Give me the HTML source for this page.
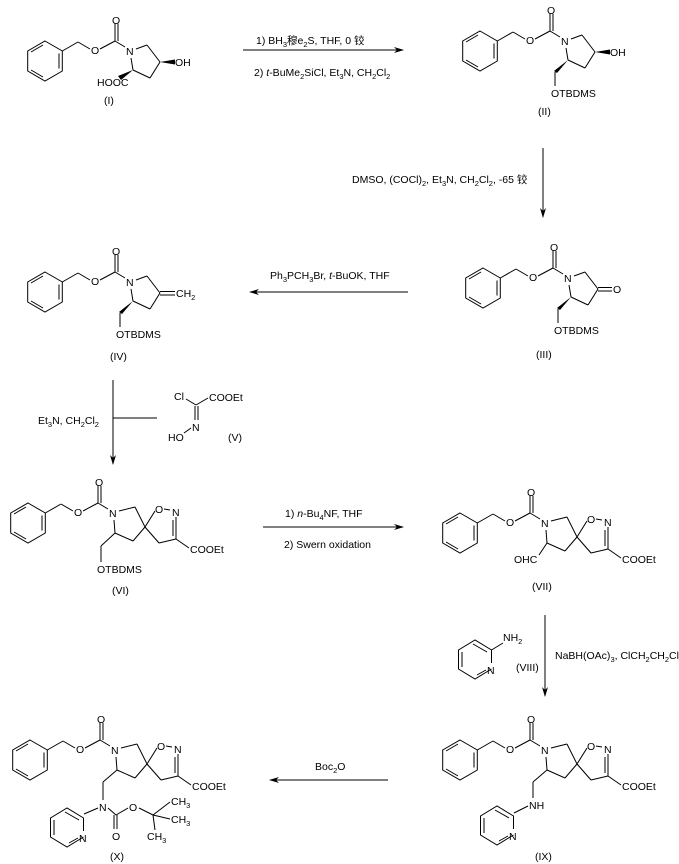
<!DOCTYPE html>
<html><head><meta charset="utf-8"><style>
html,body{margin:0;padding:0;background:#fff;}
svg{display:block;}
text{font-family:"Liberation Sans","Noto Sans CJK SC",sans-serif;font-size:10.5px;fill:#000;}
.s{font-size:7.5px;}
</style></head><body>
<svg width="679" height="864" viewBox="0 0 679 864" xmlns="http://www.w3.org/2000/svg">
<defs>
<g id="cbz" stroke="#000" stroke-width="1" fill="none">
<polygon points="-85,-10 -67.7,0 -67.7,20 -85,30 -102.3,20 -102.3,0"/>
<line x1="-71" y1="2.5" x2="-71" y2="17.5"/>
<line x1="-87" y1="26" x2="-99" y2="19"/>
<line x1="-99" y1="1" x2="-87" y2="-6"/>
<line x1="-67.7" y1="0" x2="-52" y2="-9"/>
<line x1="-52" y1="-9" x2="-40" y2="-2"/>
<line x1="-30" y1="-2" x2="-15" y2="-10"/>
<line x1="-15" y1="-10" x2="-15" y2="-27"/>
<line x1="-12" y1="-10" x2="-12" y2="-27"/>
<line x1="-15" y1="-10" x2="-5" y2="-4"/>
</g>
<g id="pyr" stroke="#000" stroke-width="1" fill="none">
<line x1="6" y1="-2" x2="17" y2="-6"/>
<line x1="17" y1="-6" x2="30" y2="11"/>
<line x1="30" y1="11" x2="20" y2="27"/>
<line x1="20" y1="27" x2="3" y2="19"/>
<line x1="3" y1="19" x2="1" y2="7"/>
</g>
<g id="spiro" stroke="#000" stroke-width="1" fill="none">
<line x1="6" y1="-2" x2="22" y2="-6"/>
<line x1="22" y1="-6" x2="32" y2="14"/>
<line x1="32" y1="14" x2="20" y2="28"/>
<line x1="20" y1="28" x2="2" y2="20"/>
<line x1="2" y1="20" x2="1" y2="7"/>
<line x1="32" y1="14" x2="42" y2="-2"/>
<line x1="51" y1="-4" x2="57" y2="-3"/>
<line x1="63" y1="4" x2="63" y2="26"/>
<line x1="60" y1="7" x2="60" y2="23"/>
<line x1="63" y1="26" x2="46" y2="30"/>
<line x1="46" y1="30" x2="32" y2="14"/>
<line x1="63" y1="26" x2="76" y2="35"/>
</g>
<g id="py" stroke="#000" stroke-width="1" fill="none">
<polyline points="16.5,14 0,24 -16.5,14 -16.5,-5 0,-15 16.5,-5 16.5,8"/>
<line x1="-13" y1="-3" x2="-13" y2="12"/>
<line x1="-2" y1="-11" x2="12" y2="-3"/>
<line x1="2" y1="20" x2="11" y2="15"/>
</g>
<marker id="ar" markerWidth="10" markerHeight="8" refX="9" refY="4" orient="auto" markerUnits="userSpaceOnUse">
<path d="M0,1 L10,4 L0,7 L3,4 Z" fill="#000"/>
</marker>
</defs>

<!-- (I) -->
<use href="#cbz" x="130" y="51"/><use href="#pyr" x="130" y="51"/>
<text x="91" y="54">O</text><text x="112" y="24">O</text><text x="126" y="55">N</text>
<polygon points="160,62 175,59.5 175,64.5" fill="#000"/><text x="175" y="66">OH</text>
<polygon points="133,70 118,76 121,80" fill="#000"/><text x="97" y="86">HOOC</text>
<text x="104" y="104">(I)</text>

<!-- arrow I->II -->
<line x1="243" y1="50" x2="403" y2="50" stroke="#000" marker-end="url(#ar)"/>
<text x="256" y="44">1) BH<tspan class="s" dy="3">3</tspan><tspan dy="-3">穆e</tspan><tspan class="s" dy="3">2</tspan><tspan dy="-3">S, THF, 0 铰</tspan></text>
<text x="254" y="76">2) <tspan font-style="italic">t</tspan>-BuMe<tspan class="s" dy="3">2</tspan><tspan dy="-3">SiCl, Et</tspan><tspan class="s" dy="3">3</tspan><tspan dy="-3">N, CH</tspan><tspan class="s" dy="3">2</tspan><tspan dy="-3">Cl</tspan><tspan class="s" dy="3">2</tspan></text>

<!-- (II) -->
<use href="#cbz" x="565" y="41"/><use href="#pyr" x="565" y="41"/>
<text x="526" y="44">O</text><text x="547" y="14">O</text><text x="561" y="45">N</text>
<polygon points="595,52 610,49.5 610,54.5" fill="#000"/><text x="610" y="56">OH</text>
<polygon points="568,60 554,71 557,73" fill="#000"/>
<line x1="555" y1="72" x2="555" y2="86" stroke="#000"/>
<text x="551" y="97">OTBDMS</text>
<text x="538" y="115">(II)</text>

<!-- arrow II->III -->
<line x1="543" y1="148" x2="543" y2="217" stroke="#000" marker-end="url(#ar)"/>
<text x="352" y="183">DMSO, (COCl)<tspan class="s" dy="3">2</tspan><tspan dy="-3">, Et</tspan><tspan class="s" dy="3">3</tspan><tspan dy="-3">N, CH</tspan><tspan class="s" dy="3">2</tspan><tspan dy="-3">Cl</tspan><tspan class="s" dy="3">2</tspan><tspan dy="-3">, -65 铰</tspan></text>

<!-- (III) -->
<use href="#cbz" x="568" y="278"/><use href="#pyr" x="568" y="278"/>
<text x="529" y="281">O</text><text x="550" y="251">O</text><text x="564" y="282">N</text>
<line x1="598" y1="287.5" x2="612" y2="287.5" stroke="#000"/><line x1="598" y1="291" x2="612" y2="291" stroke="#000"/>
<text x="613" y="293">O</text>
<polygon points="571,297 557,308 560,310" fill="#000"/>
<line x1="558" y1="309" x2="558" y2="323" stroke="#000"/>
<text x="554" y="334">OTBDMS</text>
<text x="536" y="358">(III)</text>

<!-- arrow III->IV -->
<line x1="408" y1="292" x2="250" y2="292" stroke="#000" marker-end="url(#ar)"/>
<text x="270" y="279">Ph<tspan class="s" dy="3">3</tspan><tspan dy="-3">PCH</tspan><tspan class="s" dy="3">3</tspan><tspan dy="-3">Br, </tspan><tspan font-style="italic">t</tspan>-BuOK, THF</text>

<!-- (IV) -->
<use href="#cbz" x="130" y="282"/><use href="#pyr" x="130" y="282"/>
<text x="91" y="285">O</text><text x="112" y="255">O</text><text x="126" y="286">N</text>
<line x1="160" y1="291.5" x2="175" y2="291.5" stroke="#000"/><line x1="160" y1="295" x2="175" y2="295" stroke="#000"/>
<text x="176" y="297">CH<tspan class="s" dy="3">2</tspan></text>
<polygon points="133,301 119,312 122,314" fill="#000"/>
<line x1="120" y1="313" x2="120" y2="327" stroke="#000"/>
<text x="116" y="338">OTBDMS</text>
<text x="110" y="360">(IV)</text>

<!-- arrow IV->VI with V -->
<line x1="113" y1="380" x2="113" y2="464" stroke="#000" marker-end="url(#ar)"/>
<line x1="113" y1="418" x2="157" y2="418" stroke="#000"/>
<text x="38" y="424">Et<tspan class="s" dy="3">3</tspan><tspan dy="-3">N, CH</tspan><tspan class="s" dy="3">2</tspan><tspan dy="-3">Cl</tspan><tspan class="s" dy="3">2</tspan></text>
<text x="174" y="400">Cl</text>
<line x1="186" y1="399" x2="196" y2="405" stroke="#000"/>
<line x1="196" y1="405" x2="208" y2="398" stroke="#000"/>
<text x="209" y="401">COOEt</text>
<line x1="195" y1="406" x2="195" y2="420" stroke="#000"/><line x1="198" y1="406" x2="198" y2="420" stroke="#000"/>
<text x="192" y="431">N</text>
<line x1="191" y1="428" x2="184" y2="433" stroke="#000"/>
<text x="168" y="441">HO</text>
<text x="228" y="441">(V)</text>

<!-- (VI) -->
<use href="#cbz" x="113" y="513"/><use href="#spiro" x="113" y="513"/>
<text x="74" y="516">O</text><text x="95" y="486">O</text><text x="109" y="517">N</text>
<text x="155" y="513">O</text><text x="172" y="516">N</text>
<text x="190" y="553">COOEt</text>
<line x1="115" y1="533" x2="101" y2="546" stroke="#000"/>
<line x1="101" y1="546" x2="101" y2="562" stroke="#000"/>
<text x="97" y="573">OTBDMS</text>
<text x="112" y="594">(VI)</text>

<!-- arrow VI->VII -->
<line x1="263" y1="527" x2="403" y2="527" stroke="#000" marker-end="url(#ar)"/>
<text x="285" y="517">1) <tspan font-style="italic">n</tspan>-Bu<tspan class="s" dy="3">4</tspan><tspan dy="-3">NF, THF</tspan></text>
<text x="284" y="548">2) Swern oxidation</text>

<!-- (VII) -->
<use href="#cbz" x="545" y="523"/><use href="#spiro" x="545" y="523"/>
<text x="506" y="526">O</text><text x="527" y="496">O</text><text x="541" y="527">N</text>
<text x="587" y="523">O</text><text x="604" y="526">N</text>
<text x="622" y="563">COOEt</text>
<line x1="547" y1="543" x2="539" y2="555" stroke="#000"/>
<text x="514" y="563">OHC</text>
<text x="532" y="590">(VII)</text>

<!-- arrow VII->IX -->
<line x1="545" y1="615" x2="545" y2="696" stroke="#000" marker-end="url(#ar)"/>
<text x="555" y="659">NaBH(OAc)<tspan class="s" dy="3">3</tspan><tspan dy="-3">, ClCH</tspan><tspan class="s" dy="3">2</tspan><tspan dy="-3">CH</tspan><tspan class="s" dy="3">2</tspan><tspan dy="-3">Cl</tspan></text>
<!-- VIII -->
<use href="#py" x="475" y="655"/>
<line x1="491.5" y1="650" x2="503" y2="643" stroke="#000"/>
<text x="503" y="641">NH<tspan class="s" dy="3">2</tspan></text>
<text x="487" y="674">N</text>
<text x="516" y="671">(VIII)</text>

<!-- (IX) -->
<use href="#cbz" x="545" y="750"/><use href="#spiro" x="545" y="750"/>
<text x="506" y="753">O</text><text x="527" y="723">O</text><text x="541" y="754">N</text>
<text x="587" y="750">O</text><text x="604" y="753">N</text>
<text x="622" y="790">COOEt</text>
<line x1="547" y1="770" x2="533" y2="782" stroke="#000"/>
<line x1="533" y1="782" x2="533" y2="798" stroke="#000"/>
<text x="529" y="809">NH</text>
<line x1="528" y1="806" x2="514" y2="813" stroke="#000"/>
<use href="#py" x="497" y="821"/>
<text x="509" y="840">N</text>
<text x="535" y="860">(IX)</text>

<!-- arrow IX->X -->
<line x1="388" y1="780" x2="270" y2="780" stroke="#000" marker-end="url(#ar)"/>
<text x="315" y="770">Boc<tspan class="s" dy="3">2</tspan><tspan dy="-3">O</tspan></text>

<!-- (X) -->
<use href="#cbz" x="115" y="750"/><use href="#spiro" x="115" y="750"/>
<text x="76" y="753">O</text><text x="97" y="723">O</text><text x="111" y="754">N</text>
<text x="157" y="750">O</text><text x="174" y="753">N</text>
<text x="192" y="790">COOEt</text>
<line x1="117" y1="770" x2="103" y2="782" stroke="#000"/>
<line x1="103" y1="782" x2="103" y2="800" stroke="#000"/>
<text x="99" y="811">N</text>
<line x1="98" y1="808" x2="84" y2="814" stroke="#000"/>
<use href="#py" x="67" y="823"/>
<text x="79" y="842">N</text>
<line x1="108" y1="808" x2="116" y2="815" stroke="#000"/>
<line x1="114" y1="815" x2="114" y2="829" stroke="#000"/><line x1="117" y1="815" x2="117" y2="829" stroke="#000"/>
<text x="112" y="840">O</text>
<line x1="116" y1="815" x2="128" y2="808" stroke="#000"/>
<text x="129" y="811">O</text>
<line x1="139" y1="808" x2="153" y2="815" stroke="#000"/>
<line x1="153" y1="815" x2="170" y2="802" stroke="#000"/>
<line x1="153" y1="815" x2="170" y2="819" stroke="#000"/>
<line x1="153" y1="815" x2="155" y2="830" stroke="#000"/>
<text x="171" y="805">CH<tspan class="s" dy="3">3</tspan></text>
<text x="171" y="823">CH<tspan class="s" dy="3">3</tspan></text>
<text x="147" y="840">CH<tspan class="s" dy="3">3</tspan></text>
<text x="110" y="860">(X)</text>
</svg>
</body></html>
